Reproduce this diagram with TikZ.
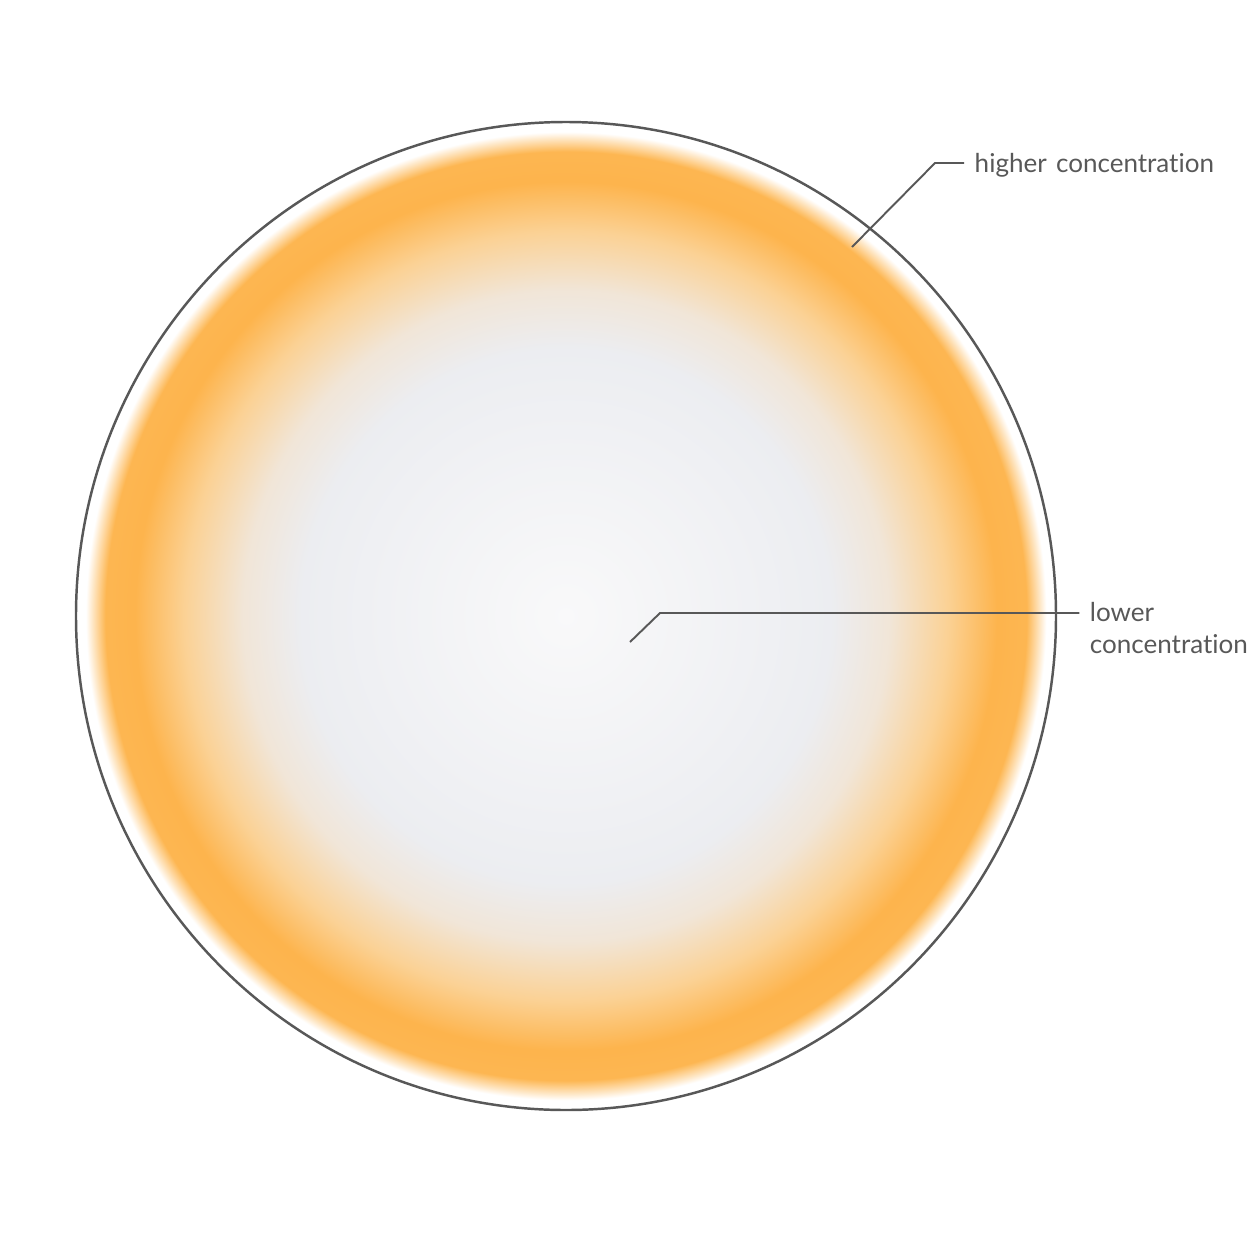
\documentclass[tikz,border=0pt]{standalone}
\usepackage{fontspec}
\setmainfont{Lato}[Ligatures=NoCommon, WordSpace=1.4]
\usepackage{tikz}
\usetikzlibrary{positioning}
\definecolor{inkgray}{HTML}{585858}

% radial profile: pale centre, orange band near the rim, white rim
% (the rim of the path sits at 25bp)
\pgfdeclareradialshading{concshade}{\pgfpoint{0bp}{0bp}}{%
  rgb(0bp)=(0.976,0.976,0.980);
  rgb(8.5bp)=(0.945,0.948,0.958);
  rgb(13.5bp)=(0.925,0.930,0.945);
  rgb(16.5bp)=(0.945,0.900,0.845);
  rgb(19.5bp)=(0.985,0.820,0.580);
  rgb(22bp)=(0.992,0.705,0.300);
  rgb(23.5bp)=(0.992,0.715,0.320);
  rgb(24.5bp)=(1,1,1);
  rgb(50bp)=(1,1,1)}

\begin{document}
\begin{tikzpicture}[
    x=0.01cm, y=-0.01cm,
    font=\fontsize{7.4pt}{9.1pt}\selectfont,
    rim/.style={
		draw=inkgray,
		line width=0.7pt
	},
	leader/.style={
		draw=inkgray,
		line width=0.55pt
	},
	tag/.style={
		text=inkgray,
		anchor=west,
		inner sep=0pt,
		align=left
	}
  ]
  \useasboundingbox (0,0) rectangle (1254,1254);

  % the cell with its shading
  \shade[shading=concshade] (566,616) ellipse [x radius=490, y radius=494];
  \draw[rim] (566,616) ellipse [x radius=490, y radius=494];

  % leader points
  \coordinate (tipH) at (852,247);
  \coordinate (kneeH) at (935,163);
  \coordinate (tipL) at (630,642);
  \coordinate (kneeL) at (660,613);

  \node [tag, right=0.39cm of kneeH, yshift=-0.02cm] (higher) {higher concentration};
  \node [tag, right=4.29cm of kneeL, anchor=north west, yshift=0.11cm] (lower) {lower\\concentration};

  \draw [leader] (tipH) -- (kneeH) -- ([xshift=-0.1cm]kneeH -| higher.west);
  \draw [leader] (tipL) -- (kneeL) -- ([xshift=-0.1cm]kneeL -| lower.west);

\end{tikzpicture}
\end{document}
